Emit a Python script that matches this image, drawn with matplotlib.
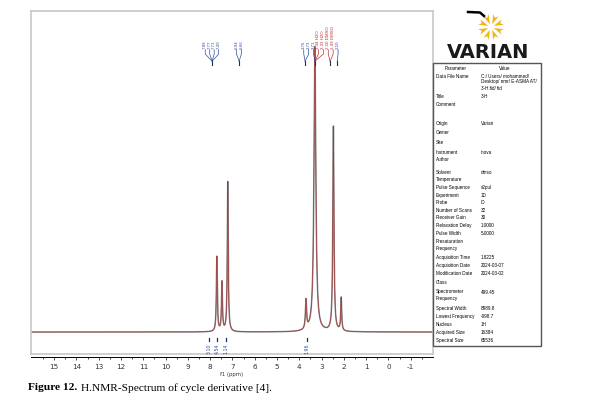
import numpy as np
import matplotlib
matplotlib.use('Agg')
import matplotlib.pyplot as plt
from matplotlib.lines import Line2D
from matplotlib.patches import Rectangle, Polygon

# peaks (ppm, relative height, half width)
peak_ppm = [7.70, 7.47, 7.21, 3.70, 3.30, 2.47, 2.12]
peak_height = [26.3, 17.2, 52.6, 10.2, 100.0, 71.9, 11.6]
peak_width = [0.025, 0.025, 0.025, 0.03, 0.05, 0.03, 0.025]

# peak pick labels (text, ppm position of label, colour group)
pick_text = ['7.89', '7.77', '7.71', '7.49', '6.94', '6.66',
             '3.76', '3.73', '3.71', '3.34 H2O', '3.33 H2O', '2.50 DMSO', '2.49 DMSO', '2.10']
pick_pos = [8.22, 8.02, 7.82, 7.62, 6.82, 6.60,
            3.80, 3.58, 3.36, 3.14, 2.92, 2.70, 2.48, 2.26]
pick_red = [0, 0, 0, 0, 0, 0, 0, 0, 0, 1, 1, 1, 1, 0]
tips = [(7.91, [0, 1, 2, 3]), (6.70, [4, 5]), (3.74, [6, 7]), (3.30, [8, 9, 10]),
        (2.62, [11, 12]), (2.30, [13])]

# integrals
integ_text = ['3.10', '4.54', '1.14', '1.96']
integ_pos = [8.05, 7.70, 7.28, 3.66]

# acquisition parameter table
param_names = ['Data File Name', '', '', 'Title', 'Comment', '', 'Origin', 'Owner', 'Site',
               'Instrument', 'Author', 'Solvent', 'Temperature', 'Pulse Sequence', 'Experiment',
               'Probe', 'Number of Scans', 'Receiver Gain', 'Relaxation Delay', 'Pulse Width',
               'Presaturation', 'Frequency', 'Acquisition Time', 'Acquisition Date',
               'Modification Date', 'Class', 'Spectrometer', 'Frequency', 'Spectral Width',
               'Lowest Frequency', 'Nucleus', 'Acquired Size', 'Spectral Size']
param_values = ['C:/ Users/ mohammed/', 'Desktop/ nmr/ E-ASMA AT/', '3-H.fid/ fid', '3-H', '', '',
                'Varian', '', '', 'inova', '', 'dmso', '', 's2pul', '1D', 'ID', '32', '30',
                '1.0000', '5.0000', '', '', '1.8225', '2024-03-07', '2024-03-02', '', '499.45', '',
                '8989.8', '-998.7', '1H', '16384', '65536']
param_rows_y = [76, 82, 89, 97, 105, 114, 124, 132, 142, 152, 160, 172, 180, 188, 196, 203,
                211, 218, 226, 234, 242, 249, 258, 266, 274, 282, 292, 299, 309, 317, 325, 333, 341]

W, H = 598, 402
fig = plt.figure(figsize=(W / 100, H / 100), dpi=100)


def fx(x):
    return x / W


def fy(y):
    return 1 - y / H


ax = fig.add_axes([fx(31), fy(355), fx(433) - fx(31), fy(12) - fy(355)])
ppm = np.linspace(16, -2, 8000)
spec = np.zeros_like(ppm)
for p, h, w in zip(peak_ppm, peak_height, peak_width):
    spec += h / (1 + ((ppm - p) / w) ** 2)
ax.plot(ppm, spec, color='#8a8a8a', lw=1.1)
ax.plot(ppm, spec, color='#a83838', lw=0.45)
ax.set_xlim(16.04, -2.0)
ax.set_ylim(-7.7, 112.6)
ax.set_xticks([])
ax.set_yticks([])
for s in ax.spines.values():
    s.set_color('#c8c8c8')
    s.set_linewidth(1.2)

# peak pick labels
for t, p, r in zip(pick_text, pick_pos, pick_red):
    c = '#c03030' if r else '#3050a0'
    ax.text(p, 99.5, t, rotation=90, ha='center', va='bottom', fontsize=3.2, color=c,
            family='Liberation Sans')
for tip, idx in tips:
    for i in idx:
        c = '#c03030' if pick_red[i] else '#3050a0'
        ax.plot([pick_pos[i], pick_pos[i], tip], [99, 97.5, 95], color=c, lw=0.5)
    ax.plot([tip, tip], [95, 93.5], color='#203060', lw=0.8)

# integrals
for t, p in zip(integ_text, integ_pos):
    ax.plot([p, p], [-2.2, -3.2], color='#203060', lw=0.9)
    ax.text(p, -3.5, t, rotation=90, ha='center', va='top', fontsize=3.4, color='#3050a0')

# separate ppm scale below the frame
ax2 = fig.add_axes([fx(31), fy(358), fx(433) - fx(31), 0.001])
ax2.set_xlim(16.04, -2.0)
ax2.set_yticks([])
ticks = np.arange(15, -2, -1)
ax2.set_xticks(ticks)
ax2.set_xticklabels([str(t) for t in ticks])
ax2.set_xticks(np.arange(15.5, -2, -0.5), minor=True)
ax2.tick_params(axis='x', length=2.5, width=0.6, labelsize=5.2, pad=2, colors='#333333')
ax2.tick_params(axis='x', which='minor', length=1.3, width=0.5)
for k in ['top', 'left', 'right']:
    ax2.spines[k].set_visible(False)
ax2.spines['bottom'].set_linewidth(0.7)
fig.text(fx(232), fy(375), 'f1 (ppm)', fontsize=3.8, ha='center', va='center', color='#333333')

# Varian logo
cx, cy = 491, 28
for a in np.arange(0, 360, 45):
    ar = np.deg2rad(a + 22.5)
    d = np.deg2rad(13)
    pts = [(fx(cx + 3 * np.cos(ar)), fy(cy - 3 * np.sin(ar))),
           (fx(cx + 13 * np.cos(ar - d)), fy(cy - 13 * np.sin(ar - d))),
           (fx(cx + 10 * np.cos(ar)), fy(cy - 10 * np.sin(ar))),
           (fx(cx + 13 * np.cos(ar + d)), fy(cy - 13 * np.sin(ar + d)))]
    fig.add_artist(Polygon(pts, closed=True, transform=fig.transFigure, fc='#f2b418', ec='none'))
fig.add_artist(Line2D([fx(468), fx(480), fx(484)], [fy(13), fy(13.5), fy(17)], color='black', lw=1.8))
fig.text(fx(488), fy(52), 'VARIAN', fontsize=14, fontweight='bold', ha='center', va='center',
         color='#1a1a1a', family='DejaVu Sans')

# parameter table
fig.add_artist(Rectangle((fx(433), fy(347)), fx(541) - fx(433), fy(64) - fy(347),
                         transform=fig.transFigure, fill=False, ec='#555555', lw=1.0))
fig.text(fx(456), fy(69), 'Parameter', fontsize=3.3, ha='center', va='center', family='Liberation Sans')
fig.text(fx(505), fy(69), 'Value', fontsize=3.3, ha='center', va='center', family='Liberation Sans')
for n, v, y in zip(param_names, param_values, param_rows_y):
    fig.text(fx(436), fy(y), n, fontsize=3.3, ha='left', va='center', family='Liberation Sans')
    fig.text(fx(481), fy(y), v, fontsize=3.3, ha='left', va='center', family='Liberation Sans')

# caption
fig.text(fx(28), fy(388), 'Figure 12.', fontsize=8.2, ha='left', va='center',
         family='Liberation Serif', fontweight='bold')
fig.text(fx(81), fy(388), 'H.NMR-Spectrum of cycle derivative [4].', fontsize=8.2, ha='left',
         va='center', family='Liberation Serif')

fig.savefig('out.png', dpi=100)
